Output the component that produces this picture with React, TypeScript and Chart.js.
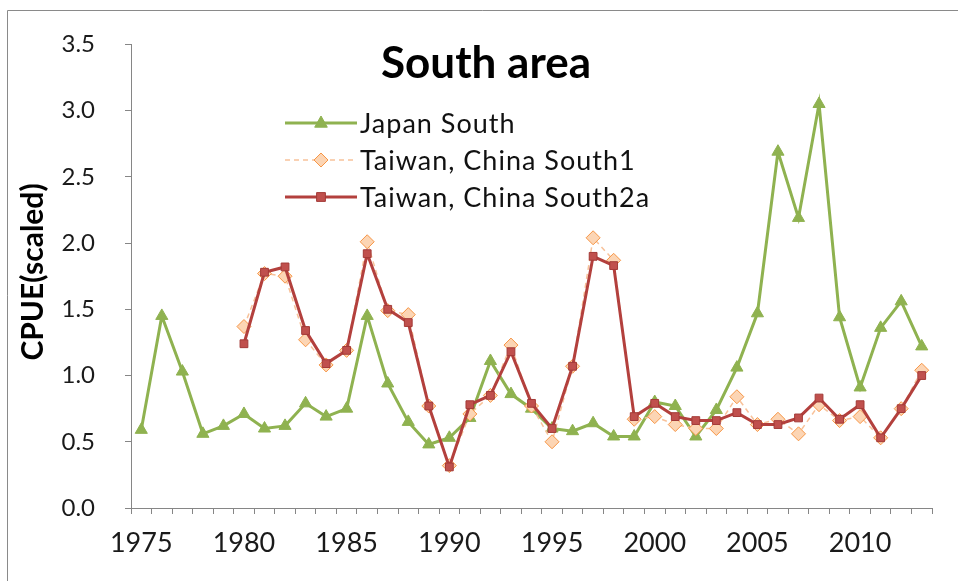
import React, { useEffect, useRef } from "react";
import { Chart, registerables } from "chart.js";

Chart.register(...registerables);

const years: string[] = [
  "1975", "1976", "1977", "1978", "1979", "1980", "1981", "1982", "1983", "1984",
  "1985", "1986", "1987", "1988", "1989", "1990", "1991", "1992", "1993", "1994",
  "1995", "1996", "1997", "1998", "1999", "2000", "2001", "2002", "2003", "2004",
  "2005", "2006", "2007", "2008", "2009", "2010", "2011", "2012", "2013",
];

const japanSouth: (number | null)[] = [
  0.59, 1.45, 1.03, 0.56, 0.62, 0.71, 0.6, 0.62, 0.79, 0.69,
  0.75, 1.45, 0.94, 0.65, 0.48, 0.53, 0.68, 1.11, 0.86, 0.75,
  0.6, 0.58, 0.64, 0.54, 0.54, 0.8, 0.77, 0.54, 0.74, 1.06,
  1.47, 2.69, 2.19, 3.05, 1.44, 0.91, 1.36, 1.56, 1.22,
];

const taiwanSouth1: (number | null)[] = [
  null, null, null, null, null, 1.37, 1.77, 1.75, 1.27, 1.08,
  1.19, 2.01, 1.49, 1.46, 0.77, 0.32, 0.71, 0.85, 1.23, 0.77,
  0.5, 1.07, 2.04, 1.87, 0.67, 0.69, 0.63, 0.6, 0.6, 0.84,
  0.63, 0.67, 0.56, 0.78, 0.66, 0.69, 0.53, 0.75, 1.04,
];

const taiwanSouth2a: (number | null)[] = [
  null, null, null, null, null, 1.24, 1.78, 1.82, 1.34, 1.09,
  1.19, 1.92, 1.5, 1.4, 0.77, 0.31, 0.78, 0.85, 1.18, 0.79,
  0.6, 1.07, 1.9, 1.83, 0.69, 0.79, 0.69, 0.66, 0.66, 0.72,
  0.63, 0.63, 0.68, 0.83, 0.67, 0.78, 0.53, 0.75, 1.0,
];

const seriesNames = ["Japan South", "Taiwan, China South1", "Taiwan, China South2a"];
const chartTitle = "South area";
const yTitle = "CPUE(scaled)";
const yTicks = [0, 0.5, 1, 1.5, 2, 2.5, 3, 3.5];
const labelEvery = 5;

const FONT = "Lato, 'Open Sans', sans-serif";

export default function App() {
  const ref = useRef<HTMLCanvasElement | null>(null);

  useEffect(() => {
    if (!ref.current) return;

    const decor = {
      id: "decor",
      beforeDraw(chart: any) {
        const ctx = chart.ctx;
        ctx.save();
        ctx.fillStyle = "#ffffff";
        ctx.fillRect(0, 0, chart.width, chart.height);
        ctx.strokeStyle = "#8a8a8a";
        ctx.lineWidth = 1;
        ctx.beginPath();
        ctx.moveTo(7.5, chart.height);
        ctx.lineTo(7.5, 10.5);
        ctx.lineTo(chart.width, 10.5);
        ctx.stroke();
        ctx.restore();
      },
      afterDraw(chart: any) {
        const ctx = chart.ctx;
        ctx.save();
        // title
        ctx.fillStyle = "#000000";
        ctx.font = `bold 44px ${FONT}`;
        ctx.textAlign = "center";
        ctx.textBaseline = "alphabetic";
        ctx.fillText(chartTitle, 486, 78);
        // y title
        ctx.save();
        ctx.translate(33, 272);
        ctx.rotate(-Math.PI / 2);
        ctx.font = `bold 30px ${FONT}`;
        ctx.textAlign = "center";
        ctx.textBaseline = "middle";
        ctx.fillText(yTitle, 0, 0);
        ctx.restore();
        // legend
        const rows = [123, 160, 197];
        chart.data.datasets.forEach((ds: any, i: number) => {
          const y = rows[i];
          ctx.save();
          ctx.strokeStyle = ds.borderColor;
          ctx.lineWidth = ds.borderWidth;
          ctx.setLineDash(ds.borderDash || []);
          ctx.beginPath();
          ctx.moveTo(285, y);
          ctx.lineTo(357, y);
          ctx.stroke();
          ctx.setLineDash([]);
          ctx.restore();
          ctx.save();
          ctx.fillStyle = ds.pointBackgroundColor;
          ctx.strokeStyle = ds.pointBorderColor;
          ctx.lineWidth = 1;
          const cx = 321;
          const r = ds.pointRadius;
          ctx.beginPath();
          if (ds.pointStyle === "triangle") {
            ctx.moveTo(cx, y - r);
            ctx.lineTo(cx + r * 0.9, y + r * 0.6);
            ctx.lineTo(cx - r * 0.9, y + r * 0.6);
            ctx.closePath();
          } else if (ds.pointStyle === "rectRot") {
            ctx.moveTo(cx, y - r);
            ctx.lineTo(cx + r, y);
            ctx.lineTo(cx, y + r);
            ctx.lineTo(cx - r, y);
            ctx.closePath();
          } else {
            const s = r * 0.8;
            ctx.rect(cx - s, y - s, 2 * s, 2 * s);
          }
          ctx.fill();
          ctx.stroke();
          ctx.restore();
          ctx.save();
          ctx.fillStyle = "#111111";
          ctx.font = `27px ${FONT}`;
          try { (ctx as any).letterSpacing = "1px"; } catch (e) {}
          ctx.textAlign = "left";
          ctx.textBaseline = "middle";
          ctx.fillText(ds.label, 360, y + 1);
          ctx.restore();
        });
        ctx.restore();
      },
    };

    const chart = new Chart(ref.current, {
      type: "line",
      data: {
        labels: years,
        datasets: [
          {
            label: seriesNames[0],
            data: japanSouth,
            borderColor: "#8FB250",
            backgroundColor: "#9BBB59",
            borderWidth: 3,
            pointStyle: "triangle",
            pointRadius: 7,
            pointBackgroundColor: "#8FB250",
            pointBorderColor: "#8FB250",
            pointBorderWidth: 1,
            tension: 0,
            spanGaps: false,
            order: 2,
          } as any,
          {
            label: seriesNames[1],
            data: taiwanSouth1,
            borderColor: "#F8C29A",
            backgroundColor: "#FAC090",
            borderWidth: 1.5,
            borderDash: [5, 4],
            pointStyle: "rectRot",
            pointRadius: 7,
            pointBackgroundColor: "#FCD5B4",
            pointBorderColor: "#F79646",
            pointBorderWidth: 1,
            tension: 0,
            spanGaps: false,
            order: 1,
          } as any,
          {
            label: seriesNames[2],
            data: taiwanSouth2a,
            borderColor: "#B3403D",
            backgroundColor: "#C0504D",
            borderWidth: 3,
            pointStyle: "rect",
            pointRadius: 5.5,
            pointBackgroundColor: "#C0504D",
            pointBorderColor: "#A33A37",
            pointBorderWidth: 1,
            tension: 0,
            spanGaps: false,
            order: 0,
          } as any,
        ],
      },
      options: {
        responsive: false,
        animation: false,
        devicePixelRatio: 1,
        layout: { padding: { left: 0, top: 38, right: 26, bottom: 0 } },
        plugins: {
          legend: { display: false },
          title: { display: false },
          tooltip: { enabled: false },
        },
        scales: {
          x: {
            type: "category",
            offset: true,
            grid: {
              offset: true,
              drawOnChartArea: false,
              drawTicks: true,
              tickLength: 6,
              color: "#868686",
            },
            border: { display: true, color: "#868686", width: 1 },
            ticks: {
              autoSkip: false,
              maxRotation: 0,
              minRotation: 0,
              padding: 13,
              color: "#1a1a1a",
              font: { family: FONT, size: 27 },
              callback: function (this: any, _v: any, idx: number) {
                const lab = years[idx];
                return Number(lab) % labelEvery === 0 ? lab : "";
              },
            },
            afterFit: (scale: any) => {
              scale.height = 73;
            },
          },
          y: {
            min: 0,
            max: 3.5,
            grid: {
              drawOnChartArea: false,
              drawTicks: true,
              tickLength: 6,
              color: "#868686",
            },
            border: { display: true, color: "#868686", width: 1 },
            afterBuildTicks: (scale: any) => {
              scale.ticks = yTicks.map((v) => ({ value: v }));
            },
            ticks: {
              padding: 30,
              color: "#1a1a1a",
              font: { family: FONT, size: 24 },
              callback: (v: any) => Number(v).toFixed(1),
            },
            afterFit: (scale: any) => {
              scale.width = 131;
            },
          },
        },
      },
      plugins: [decor],
    } as any);

    return () => chart.destroy();
  }, []);

  return (
    <div style={{ position: "fixed", left: 0, top: 0, width: 958, height: 581, background: "#fff" }}>
      <canvas ref={ref} width={958} height={581} style={{ display: "block", width: 958, height: 581 }} />
    </div>
  );
}
